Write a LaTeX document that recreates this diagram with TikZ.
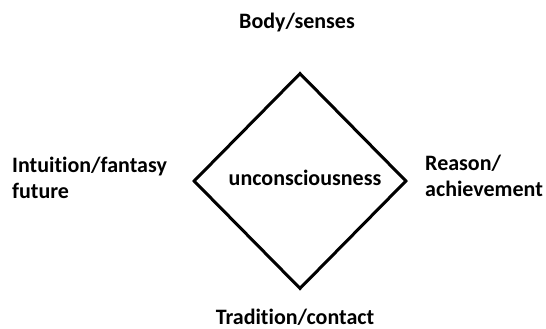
\documentclass[tikz,border=0pt]{standalone}
\usepackage{fontspec}
\setmainfont{Carlito}[Ligatures=NoCommon]
\usetikzlibrary{shapes.geometric}

\begin{document}
\begin{tikzpicture}[
    x=1pt, y=-1pt,
    lbl/.style={font=\fontsize{22}{25.5}\selectfont\bfseries, inner sep=0pt, align=left},
    core/.style={diamond, draw=black, line width=3pt, minimum width=213pt,
                 minimum height=216pt, inner sep=0pt},
  ]
    \useasboundingbox (0,0) rectangle (546,329);

    \node[core] (dia) at (300,181) {};
    \node[lbl] (mid) at (305,178) {unconsciousness};

    \node[lbl] (body)  at (297,23)  {Body/senses};
    \node[lbl,anchor=west] (intu) at (12,178) {Intuition/fantasy\\future};
    \node[lbl,anchor=west] (reas) at (425,176) {Reason/\\achievement};
    \node[lbl] (trad)  at (295,317) {Tradition/contact};

  \end{tikzpicture}
\end{document}
